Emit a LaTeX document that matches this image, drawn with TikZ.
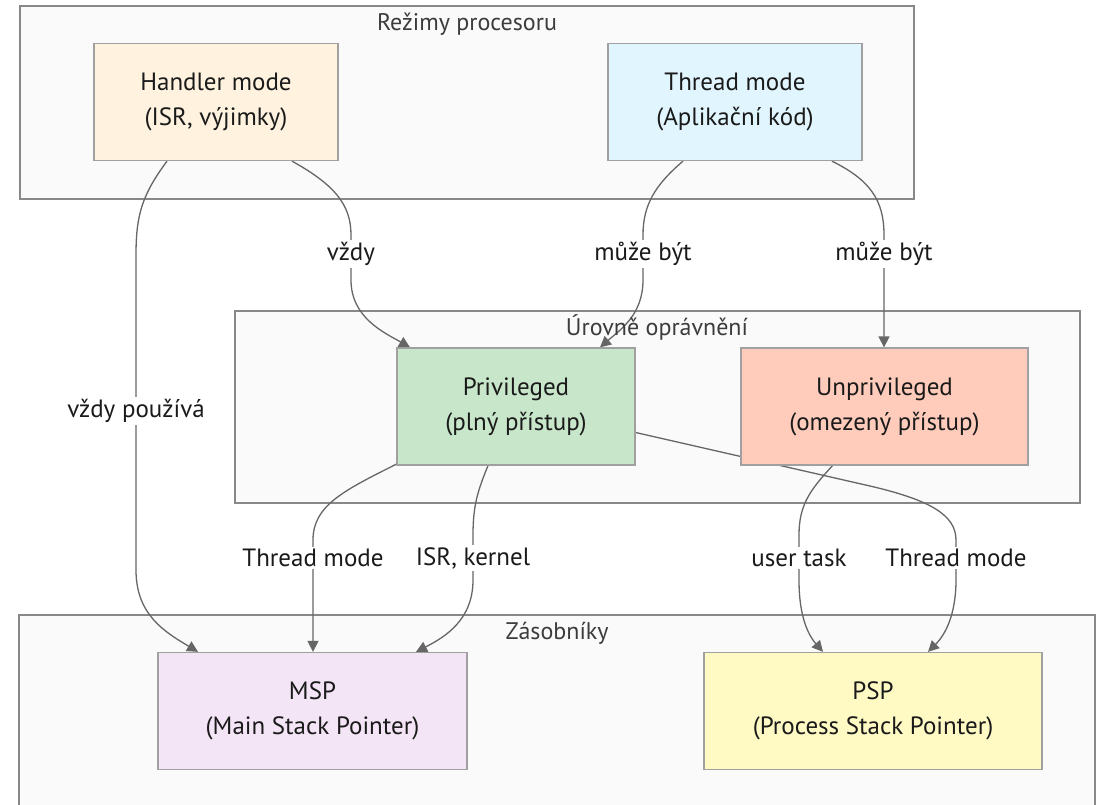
\documentclass[tikz,border=0pt]{standalone}
\usepackage{fontspec}
\setmainfont{PT Sans}
\usetikzlibrary{arrows.meta,calc}

\definecolor{clfill}{HTML}{FAFAFA}
\definecolor{clline}{HTML}{888888}
\definecolor{ndline}{HTML}{A0A0A0}
\definecolor{edline}{HTML}{666666}
\definecolor{txt}{HTML}{1A1A1A}
\definecolor{cHandler}{HTML}{FFF3E0}
\definecolor{cThread}{HTML}{E1F5FE}
\definecolor{cPriv}{HTML}{C8E6C9}
\definecolor{cUnpriv}{HTML}{FFCCBC}
\definecolor{cMsp}{HTML}{F3E5F5}
\definecolor{cPsp}{HTML}{FFF9C4}

\pgfdeclarelayer{clusters}
\pgfdeclarelayer{edges}
\pgfsetlayers{clusters,edges,main}

\tikzset{
  cluster/.style={draw=clline, fill=clfill, line width=1.5pt},
  cltitle/.style={text=txt!85, font=\fontsize{24}{28}\selectfont, inner sep=0pt},
  box/.style={draw=ndline, line width=1.3pt, rectangle, inner sep=0pt,
    minimum height=117pt, align=center, text=txt,
    font=\fontsize{25}{35}\selectfont},
  link/.style={draw=edline, line width=1.3pt,
    -{Triangle[length=11pt,width=11pt]}},
  lbl/.style={fill=white, text=txt, inner sep=2pt,
    font=\fontsize{25}{28}\selectfont}
}

\begin{document}
\begin{tikzpicture}[x=1pt,y=-1pt]
\useasboundingbox (0,0) rectangle (1101,804);

% processor modes, privilege levels, stacks
\node[box, fill=cHandler, minimum width=244pt] (handler) at (216,102) {Handler mode\\(ISR, výjimky)};
\node[box, fill=cThread, minimum width=254pt] (thread) at (735,102) {Thread mode\\(Aplikační kód)};
\node[box, fill=cPriv, minimum width=238pt] (priv) at (516,406.5) {Privileged\\(plný přístup)};
\node[box, fill=cUnpriv, minimum width=287pt] (unpriv) at (884.5,406.5) {Unprivileged\\(omezený přístup)};
\node[box, fill=cMsp, minimum width=309pt] (msp) at (312.5,711) {MSP\\(Main Stack Pointer)};
\node[box, fill=cPsp, minimum width=338pt] (psp) at (873,711) {PSP\\(Process Stack Pointer)};

% page background and group frames
\begin{pgfonlayer}{clusters}
  \fill[white] (0,0) rectangle (1101,804);
  \draw[cluster] (20,6) rectangle (914,199);
  \draw[cluster] (235,311) rectangle (1080,503);
  \draw[cluster] (19,615) -- (19,830) -- (1095,830) -- (1095,615) -- cycle;
\end{pgfonlayer}
\node[cltitle] (t1) at (467,24) {Režimy procesoru};
\node[cltitle] (t2) at (657,327) {Úrovně oprávnění};
\node[cltitle] (t3) at (557,633) {Zásobníky};

% connectors
\begin{pgfonlayer}{edges}
  \path[link] ([xshift=-49pt]handler.south) .. controls (142,195) and (136,215) .. (136,255)
     -- (136,411) node[lbl] {vždy používá}
     -- (136,570) .. controls (136,615) and (165,632) .. (msp.north -| 198,0);
  \path[link] ([xshift=76pt]handler.south) .. controls (335,185) and (351,205) .. (351,235)
     -- (351,254) node[lbl] {vždy}
     -- (351,280) .. controls (351,318) and (385,333) .. (priv.north -| 410,0);
  \path[link] ([xshift=-52pt]thread.south) .. controls (655,185) and (643,205) .. (643,235)
     -- (643,254) node[lbl] {může být}
     -- (643,280) .. controls (643,315) and (620,330) .. (priv.north -| 600,0);
  \path[link] ([xshift=97pt]thread.south) .. controls (870,180) and (884,200) .. (884,235)
     -- (884,254) node[lbl] {může být}
     -- (unpriv.north -| 884,0);
  \path[link] ([xshift=1pt,yshift=2pt]priv.south west) .. controls (345,490) and (313,505) .. (313,540)
     -- (313,558) node[lbl] {Thread mode}
     -- (msp.north -| 313,0);
  \path[link] ([xshift=-28pt]priv.south) .. controls (478,490) and (473,505) .. (473,535)
     -- (473,558) node[lbl] {ISR, kernel}
     -- (473,580) .. controls (473,620) and (445,637) .. (msp.north -| 416,0);
  \path[link] ([xshift=-52pt]unpriv.south) .. controls (810,490) and (799,505) .. (799,535)
     -- (799,558) node[lbl] {user task}
     -- (799,580) .. controls (799,620) and (810,637) .. (psp.north -| 823,0);
  \path[link] ([yshift=-26pt]priv.east) -- (870,486) .. controls (930,500) and (956,515) .. (956,540)
     -- (956,558) node[lbl] {Thread mode}
     -- (956,580) .. controls (956,615) and (945,635) .. (psp.north -| 928,0);
\end{pgfonlayer}
\end{tikzpicture}
\end{document}
